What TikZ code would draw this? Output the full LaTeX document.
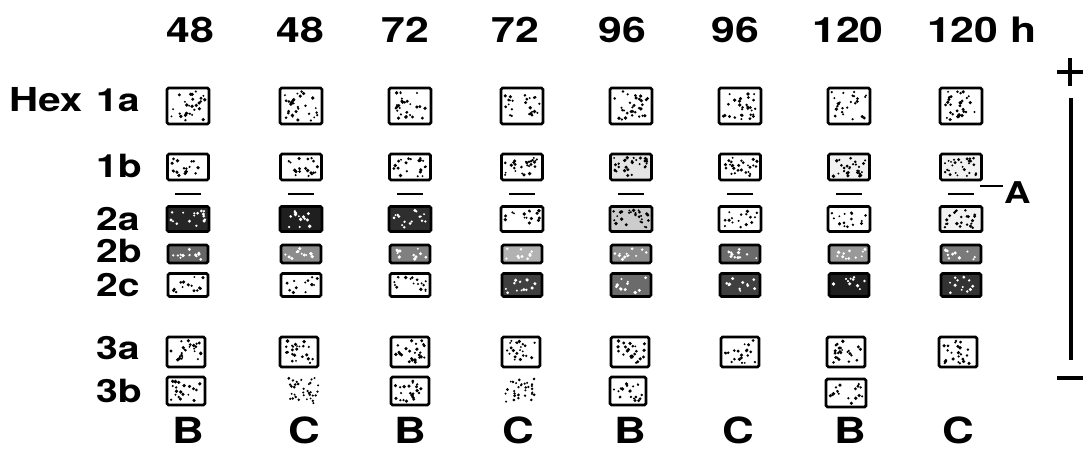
\documentclass[tikz,border=0pt]{standalone}
\usepackage{fontspec}
\usetikzlibrary{calc}
\newfontfamily\wide[FakeStretch=1.22]{TeX Gyre Heros}
\begin{document}
\tikzset{
  band/.style={draw=black, line width=2.8pt, rounded corners=1.5pt, inner sep=0pt},
  txt/.style={font=\wide\bfseries, inner sep=0pt},
  hdr/.style={txt, font=\wide\bfseries\fontsize{35}{38}\selectfont, anchor=base},
  rowlbl/.style={txt, font=\wide\bfseries\fontsize{32}{36}\selectfont, anchor=base west},
  foot/.style={txt, font=\wide\bfseries\fontsize{36}{40}\selectfont, anchor=base},
  tick/.style={line width=2.2pt},
  polar/.style={line width=4pt}
}
\newcommand\cellbox[8]{%
  \node[band, minimum width=#4pt, minimum height=#5pt, fill=black!#6] (#1) at (#2,#3) {};
  \foreach \k in {1,...,#8}{\fill[#7] ({#2-#4/2+3.5+rnd*(#4-7)},{#3-#5/2+3.5+rnd*(#5-7)}) circle[radius={1pt+rnd*0.9pt}];}%
}
\newcommand\spots[6]{%
  \coordinate (#1) at (#2,#3);
  \foreach \k in {1,...,#6}{\fill[black] ({#2-#4/2+2+rnd*(#4-4)},{#3-#5/2+2+rnd*(#5-4)}) circle[radius={1pt+rnd*0.6pt}];}%
}
\begin{tikzpicture}[x=1pt,y=-1pt]
\pgfmathsetseed{2718}
\useasboundingbox (0,0) rectangle (1083,450);
% headers
\node[hdr] (h1) at (190,42) {48};
\node[hdr] (h2) at (300,42) {48};
\node[hdr] (h3) at (405,42) {72};
\node[hdr] (h4) at (515,42) {72};
\node[hdr] (h5) at (622,42) {96};
\node[hdr] (h6) at (735,42) {96};
\node[hdr] (h7) at (848,42) {120};
\node[hdr, anchor=base west] (h8) at (927,42) {120 h};
% row labels
\node[rowlbl, font=\wide\bfseries\fontsize{33}{36}\selectfont] (hex) at (9,111) {Hex};
\node[rowlbl] (l1a) at (96,111) {1a};
\node[rowlbl] (l1b) at (96,177) {1b};
\node[rowlbl] (l2a) at (96,230) {2a};
\node[rowlbl] (l2b) at (96,262) {2b};
\node[rowlbl] (l2c) at (96,296) {2c};
\node[rowlbl] (l3a) at (96,359) {3a};
\node[rowlbl] (l3b) at (96,402) {3b};
% row 1a
\foreach \c/\x/\n in {1/188/30,2/301/30,3/410/28,4/522/24,5/631/30,6/740/30,7/849/26,8/961/34}
  {\cellbox{a\c}{\x}{106}{42}{36}{0}{black}{\n}}
% row 1b
\foreach \c/\x/\f/\n in {1/188/0/18,2/301/0/20,3/410/0/22,4/522/0/26,5/631/10/30,6/740/0/26,7/849/5/28,8/961/5/28}
  {\cellbox{b\c}{\x}{167}{41}{26}{\f}{black}{\n}}
% marks above 2a
\foreach \x in {188,301,410,522,631,740,849,961}
  {\draw[tick] (\x-13,194) -- (\x+13,194);}
% row 2a
\foreach \c/\x/\f/\d/\n in {1/188/85/white/16,2/301/88/white/14,3/410/82/white/16,4/522/0/black/16,5/631/20/black/26,6/740/0/black/16,7/849/0/black/16,8/961/5/black/22}
  {\cellbox{c\c}{\x}{219}{42}{25}{\f}{\d}{\n}}
% row 2b
\foreach \c/\x/\f/\n in {1/188/60/12,2/301/45/12,3/410/50/12,4/522/30/10,5/631/45/12,6/740/58/12,7/849/40/12,8/961/52/12}
  {\cellbox{d\c}{\x}{254}{40}{18}{\f}{white}{\n}}
% row 2c
\foreach \c/\x/\f/\d/\n in {1/188/0/black/14,2/301/0/black/12,3/410/0/black/16,4/522/75/white/12,5/631/58/white/12,6/740/75/white/12,7/849/88/white/10,8/961/80/white/12}
  {\cellbox{e\c}{\x}{285}{40}{23}{\f}{\d}{\n}}
% row 3a
\foreach \c/\x/\n in {1/186/24,2/299/24,3/410/24,4/521/22,5/630/24,6/740/20,7/846/24,8/958/24}
  {\cellbox{f\c}{\x}{352}{38}{30}{0}{black}{\n}}
% row 3b
\cellbox{g1}{186}{391}{38}{28}{0}{black}{22}
\spots{g2}{303}{391}{36}{30}{34}
\cellbox{g3}{410}{391}{38}{28}{0}{black}{22}
\spots{g4}{520}{390}{34}{28}{30}
\cellbox{g5}{628}{391}{36}{28}{0}{black}{18}
\cellbox{g7}{846}{393}{40}{28}{0}{black}{18}
% footer
\foreach \c/\x/\t in {1/188/B,2/304/C,3/410/B,4/518/C,5/630/B,6/738/C,7/850/B,8/958/C}
  {\node[foot] (z\c) at (\x,443) {\t};}
% A label
\node[txt, font=\wide\bfseries\fontsize{30}{32}\selectfont, anchor=base west] (A) at (1004,203) {A};
\draw[tick] (A.west) ++(-1,-6) coordinate (aend) -- ++(-23,0);
% polarity bar
\coordinate (plusc) at (1070,72);
\draw[polar] ($(plusc)+(-13,0)$) -- ($(plusc)+(13,0)$);
\draw[polar] ($(plusc)+(0,-14)$) -- ($(plusc)+(0,14)$);
\coordinate (bartop) at (1071,98);
\coordinate (barbot) at (1071,360);
\draw[polar] (bartop) -- (barbot);
\coordinate (minusc) at (1070,378);
\draw[polar] ($(minusc)+(-13,0)$) -- ($(minusc)+(13,0)$);
\end{tikzpicture}
\end{document}
